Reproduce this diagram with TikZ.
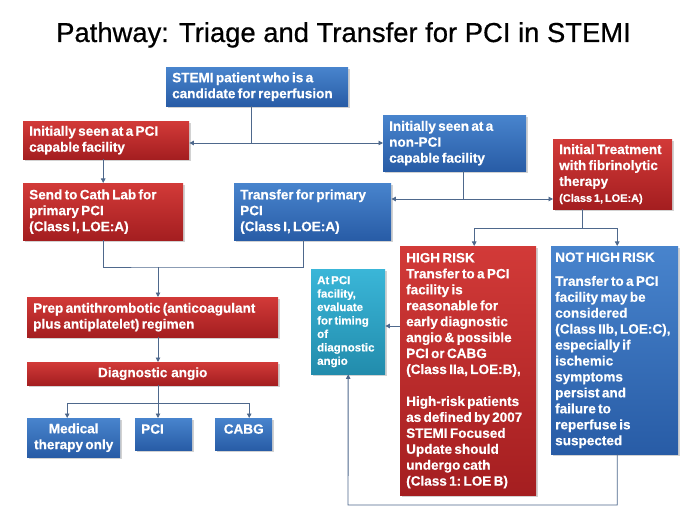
\documentclass[tikz,border=0pt]{standalone}
\usepackage{fontspec}
\setmainfont{Liberation Sans}[BoldFeatures={FakeBold=0.4}]
\newfontfamily\titlefont{Liberation Sans}[FakeBold=0.6]
\usetikzlibrary{arrows.meta,shadows}

\definecolor{redtop}{RGB}{210,58,56}
\definecolor{redbot}{RGB}{164,30,32}
\definecolor{bluetop}{RGB}{72,132,205}
\definecolor{bluebot}{RGB}{40,92,166}
\definecolor{tealtop}{RGB}{58,182,216}
\definecolor{tealbot}{RGB}{34,140,172}
\definecolor{linkcol}{RGB}{78,104,140}
\newcommand\tightsp{\frenchspacing\spaceskip=.17em plus .05em minus .02em\relax}

\begin{document}
\begin{tikzpicture}[x=1bp,y=-1bp,
    box/.style={font=\bfseries\fontsize{13.6}{16}\selectfont, execute at begin node=\tightsp,
        text=white, anchor=north west, align=left,
        inner xsep=6bp, inner ysep=1bp,
        drop shadow={shadow xshift=1.5bp,shadow yshift=-1.5bp,opacity=.35}},
    redbox/.style={box, top color=redtop, bottom color=redbot},
    bluebox/.style={box, top color=bluetop, bottom color=bluebot},
    tealbox/.style={box, top color=tealtop, bottom color=tealbot,
        font=\bfseries\fontsize{11.5}{13.5}\selectfont},
    link/.style={draw=linkcol, line width=.9bp},
    arr/.style={link, -{Triangle[length=4.5bp,width=4.5bp]}}]
    \useasboundingbox (0,0) rectangle (685,514);
    \fill[white] (0,0) rectangle (685,514);

    % title
    \node[font=\titlefont\fontsize{27.5}{30}\selectfont, anchor=base] (title) at (343.5,42) {Pathway: Triage and Transfer for PCI in STEMI};

    % first row
    \node[bluebox, text width=170bp, minimum height=39bp] (stemi) at (166,67) {STEMI patient who is a\\candidate for reperfusion};
    \node[redbox, text width=154bp, minimum height=38bp] (seenpci) at (23,121) {Initially seen at a PCI\\capable facility};
    \node[bluebox, text width=131bp, minimum height=56bp] (nonpci) at (383,115) {Initially seen at a\\non-PCI\\capable facility};
    \node[redbox, text width=107bp, minimum height=70bp] (fibrin) at (553,139) {Initial Treatment\\with fibrinolytic\\therapy\\{\fontsize{11}{16}\selectfont\tightsp (Class 1, LOE:A)}};

    % second row
    \node[redbox, text width=148bp, minimum height=57bp] (cathlab) at (23,183) {Send to Cath Lab for\\primary PCI\\(Class I, LOE:A)};
    \node[bluebox, text width=145bp, minimum height=57bp] (transfer) at (234,183) {Transfer for primary\\PCI\\(Class I, LOE:A)};

    % risk boxes
    \node[redbox, text width=124bp, minimum height=249bp] (highrisk) at (400,246) {HIGH RISK\\Transfer to a PCI\\facility is\\reasonable for\\early diagnostic\\angio \& possible\\PCI or CABG\\(Class IIa, LOE:B),\\[16bp]High-risk patients\\as defined by 2007\\STEMI Focused\\Update should\\undergo cath\\(Class 1: LOE B)};
    \node[bluebox, inner xsep=4bp, text width=119bp, minimum height=208bp] (nothigh) at (551,246) {NOT HIGH RISK\\[8bp]Transfer to a PCI\\facility may be\\considered\\(Class IIb, LOE:C),\\especially if\\ischemic\\symptoms\\persist and\\failure to\\reperfuse is\\suspected};
    \node[tealbox, text width=62bp, minimum height=105bp] (atpci) at (311,269) {At PCI\\facility,\\evaluate\\for timing\\of\\diagnostic\\angio};

    % left column
    \node[redbox, text width=239bp, minimum height=40bp] (prep) at (27,297) {Prep antithrombotic (anticoagulant\\plus antiplatelet) regimen};
    \node[redbox, align=center, text width=239bp, minimum height=23bp] (diag) at (27,362) {Diagnostic angio};
    \node[bluebox, align=center, text width=81bp, minimum height=39bp] (medical) at (27,418) {Medical\\therapy only};
    \node[bluebox, text width=45bp, minimum height=32bp, text height=9.5bp, text depth=10.5bp] (pcibox) at (135,418) {PCI};
    \node[bluebox, align=center, text width=45bp, minimum height=32bp, text height=9.5bp, text depth=10.5bp] (cabg) at (215,418) {CABG};

    % connectors
    \coordinate (j1) at (251,143);
    \draw[link] (stemi.south -| j1) -- (j1);
    \draw[arr] (j1) -- (j1 -| seenpci.east);
    \draw[arr] (j1) -- (j1 -| nonpci.west);
    \draw[arr] (seenpci.south -| cathlab.north) -- (cathlab.north);

    \coordinate (j2) at (463,199);
    \draw[link] (nonpci.south -| j2) -- (j2);
    \draw[arr] (j2) -- (j2 -| transfer.east);
    \draw[arr] (j2) -- (j2 -| fibrin.west);

    \coordinate (j3) at (582,228);
    \draw[link] (fibrin.south -| j3) -- (j3);
    \draw[arr] (j3) -| ([xshift=6bp]highrisk.north);
    \draw[arr] (j3) -| ([xshift=2.5bp]nothigh.north);

    \coordinate (j4) at (158,267);
    \draw[link] (cathlab.south) |- (j4) -| ([xshift=-9.5bp]transfer.south);
    \draw[arr] (j4) -- (j4 |- prep.north);
    \draw[arr] (j4 |- prep.south) -- (j4 |- diag.north);

    \coordinate (j5) at (158,403);
    \draw[link] (j5 |- diag.south) -- (j5);
    \draw[arr] (j5) -| ([xshift=-6.5bp]medical.north);
    \draw[arr] (j5) -- (j5 |- pcibox.north);
    \draw[arr] (j5) -| ([xshift=5.5bp]cabg.north);

    \coordinate (j6) at (392,326);
    \draw[arr] (j6 -| highrisk.west) -- (j6 -| atpci.east);
    \coordinate (j7) at (348,505);
    \draw[arr] ([xshift=2.5bp]nothigh.south) |- (j7) -- (atpci.south);
\end{tikzpicture}
\end{document}
